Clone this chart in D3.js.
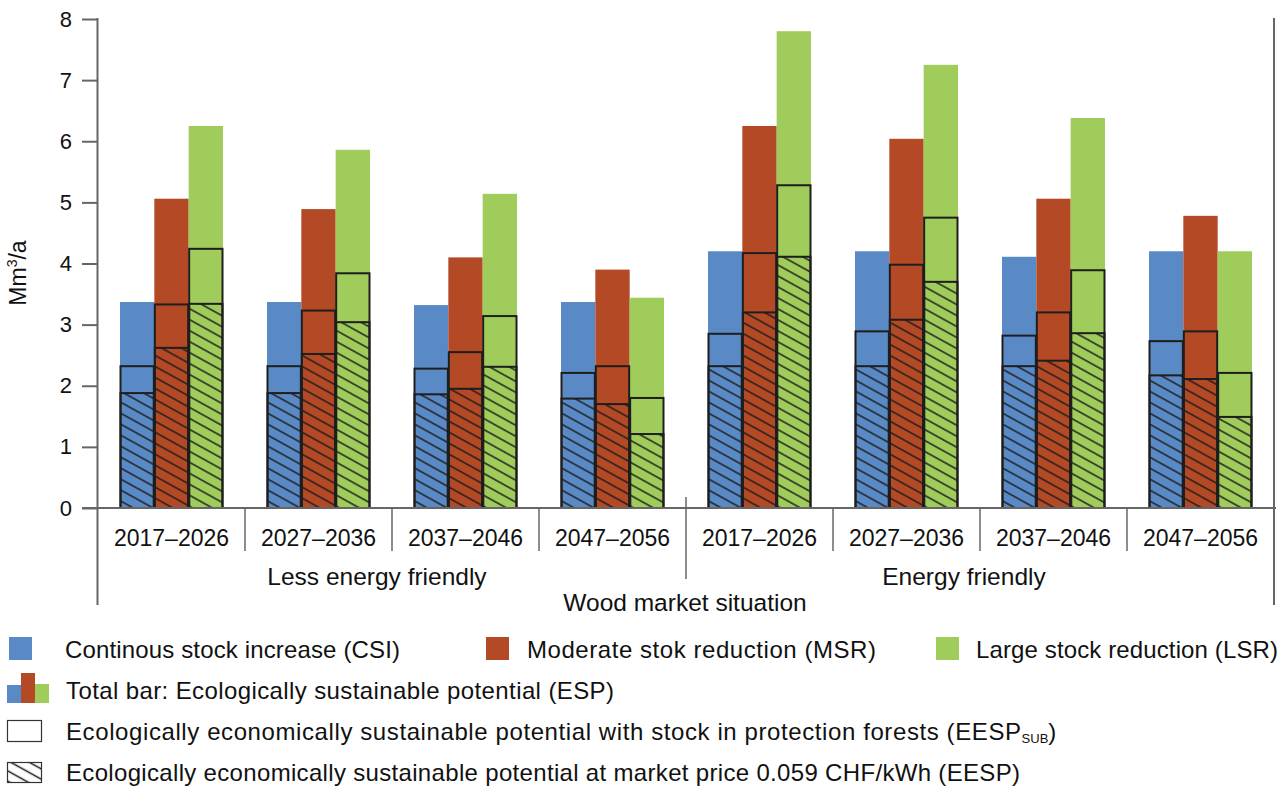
<!DOCTYPE html>
<html>
<head>
<meta charset="utf-8">
<script src="https://cdn.jsdelivr.net/npm/d3@7"></script>
<style>
  html, body { margin: 0; padding: 0; background: #fff; }
  svg { display: block; }
  text { font-family: "Liberation Sans", Arial, sans-serif; fill: #111; }
</style>
</head>
<body>
<svg id="chart" width="1288" height="788"></svg>
<script>
// ---------------- data ----------------
const periods = ["2017–2026", "2027–2036", "2037–2046", "2047–2056",
                 "2017–2026", "2027–2036", "2037–2046", "2047–2056"];
const situations = ["Less energy friendly", "Energy friendly"];
const seriesKeys = ["CSI", "MSR", "LSR"];
const seriesNames = ["Continous stock increase (CSI)", "Moderate stok reduction (MSR)", "Large stock reduction (LSR)"];
// Total bar: ecologically sustainable potential (ESP)
const espCSI = [3.37, 3.37, 3.32, 3.37, 4.20, 4.20, 4.11, 4.20];
const espMSR = [5.06, 4.89, 4.10, 3.90, 6.25, 6.04, 5.06, 4.78];
const espLSR = [6.25, 5.86, 5.14, 3.44, 7.80, 7.25, 6.38, 4.20];
// EESP_SUB (outlined box)
const subCSI = [2.32, 2.32, 2.28, 2.21, 2.85, 2.89, 2.82, 2.73];
const subMSR = [3.33, 3.23, 2.55, 2.32, 4.17, 3.98, 3.20, 2.89];
const subLSR = [4.24, 3.84, 3.14, 1.80, 5.28, 4.75, 3.89, 2.21];
// EESP at market price (hatched)
const eespCSI = [1.88, 1.88, 1.86, 1.79, 2.32, 2.32, 2.32, 2.17];
const eespMSR = [2.62, 2.52, 1.95, 1.70, 3.20, 3.08, 2.41, 2.11];
const eespLSR = [3.34, 3.04, 2.31, 1.21, 4.11, 3.70, 2.86, 1.49];
const yTicks = [0, 1, 2, 3, 4, 5, 6, 7, 8];

const colors = { CSI: "#5a8ac6", MSR: "#b44a25", LSR: "#9fcc5a" };
const esp = { CSI: espCSI, MSR: espMSR, LSR: espLSR };
const sub = { CSI: subCSI, MSR: subMSR, LSR: subLSR };
const eesp = { CSI: eespCSI, MSR: eespMSR, LSR: eespLSR };

// ---------------- layout ----------------
const svg = d3.select("#chart");
const left = 98, right = 1274, y0 = 508, yTop = 19;
const FONT = "Liberation Sans, Arial, sans-serif";
const axisColor = "#666";
const outline = "#1e1e1e";

const x = d3.scaleBand().domain(d3.range(periods.length)).range([left, right]).padding(0);
const xi = d3.scaleBand().domain(seriesKeys).range([22, x.bandwidth() - 22]).padding(0);
const y = d3.scaleLinear().domain([0, 8]).range([y0, yTop]);

// hatch pattern
const defs = svg.append("defs");
function hatch(id, spacing) {
  const p = defs.append("pattern").attr("id", id)
    .attr("patternUnits", "userSpaceOnUse")
    .attr("width", 40).attr("height", spacing)
    .attr("patternTransform", "rotate(29)");
  p.append("line").attr("x1", 0).attr("x2", 40)
    .attr("y1", spacing / 2).attr("y2", spacing / 2)
    .attr("stroke", "#1a1a1a").attr("stroke-width", 1.4);
}
hatch("hatch", 9.6);
hatch("hatchLegend", 9.0);

// ---------------- bars ----------------
const groups = svg.append("g").selectAll("g").data(d3.range(periods.length)).join("g")
  .attr("transform", i => `translate(${x(i)},0)`);

seriesKeys.forEach(k => {
  groups.append("rect")
    .attr("x", i => xi(k)).attr("width", xi.bandwidth())
    .attr("y", i => y(esp[k][i])).attr("height", i => y0 - y(esp[k][i]))
    .attr("fill", colors[k]);
});
seriesKeys.forEach(k => {
  groups.append("rect")
    .attr("x", i => xi(k) + 0.5).attr("width", xi.bandwidth() - 1)
    .attr("y", i => y(sub[k][i])).attr("height", i => y0 - y(sub[k][i]))
    .attr("fill", "none").attr("stroke", outline).attr("stroke-width", 2);
  groups.append("rect")
    .attr("x", i => xi(k) + 0.5).attr("width", xi.bandwidth() - 1)
    .attr("y", i => y(eesp[k][i])).attr("height", i => y0 - y(eesp[k][i]))
    .attr("fill", "url(#hatch)").attr("stroke", outline).attr("stroke-width", 2);
});

// ---------------- axes ----------------
const yAxis = d3.axisLeft(y).tickValues(yTicks).tickSize(16).tickPadding(10).tickFormat(d3.format("d"));
const gy = svg.append("g").attr("transform", `translate(${left},0)`).call(yAxis);
gy.select(".domain").remove();
gy.selectAll(".tick line").attr("stroke", axisColor).attr("stroke-width", 2);
gy.selectAll(".tick text").style("font-family", FONT).style("font-size", "22px").attr("fill", "#111");

svg.append("line").attr("x1", left - 0.5).attr("x2", left - 0.5).attr("y1", yTop - 1).attr("y2", 605)
  .attr("stroke", axisColor).attr("stroke-width", 2);
svg.append("line").attr("x1", right).attr("x2", right).attr("y1", yTop - 1).attr("y2", 605)
  .attr("stroke", axisColor).attr("stroke-width", 2);
svg.append("line").attr("x1", left - 16).attr("x2", right + 2).attr("y1", y0).attr("y2", y0)
  .attr("stroke", axisColor).attr("stroke-width", 2);

d3.range(1, periods.length).forEach(i => {
  const xs = x(i);
  const mid = i === periods.length / 2;
  svg.append("line").attr("x1", xs).attr("x2", xs)
    .attr("y1", mid ? 497 : y0).attr("y2", mid ? 579 : 551)
    .attr("stroke", axisColor).attr("stroke-width", 1.5);
});

svg.append("g").selectAll("text").data(periods).join("text")
  .attr("x", (d, i) => x(i) + x.bandwidth() / 2).attr("y", 546)
  .attr("text-anchor", "middle").style("font-size", "23px").text(d => d);

svg.append("g").selectAll("text").data(situations).join("text")
  .attr("x", (d, i) => i === 0 ? 377 : 964).attr("y", 585)
  .attr("text-anchor", "middle").style("font-size", "24.5px").text(d => d);

svg.append("text").attr("x", 685).attr("y", 611).attr("text-anchor", "middle")
  .style("font-size", "24.5px").text("Wood market situation");

const yt = svg.append("text").attr("transform", "translate(26,273) rotate(-90)")
  .attr("text-anchor", "middle").style("font-size", "23px");
yt.append("tspan").text("Mm");
yt.append("tspan").attr("dy", -9).style("font-size", "14px").text("3");
yt.append("tspan").attr("dy", 9).text("/a");

// ---------------- legend ----------------
const lg = svg.append("g");
const legX = [9, 486, 936];
const legTX = [65, 527, 976];
const legTL = [335, 349, 302];
const LFS = "24px";
seriesKeys.forEach((k, i) => {
  lg.append("rect").attr("x", legX[i]).attr("y", 637).attr("width", 23).attr("height", 23).attr("fill", colors[k]);
  lg.append("text").attr("x", legTX[i]).attr("y", 658).style("font-size", LFS)
    .attr("textLength", legTL[i]).attr("lengthAdjust", "spacing").text(seriesNames[i]);
});
lg.append("rect").attr("x", 7).attr("y", 685).attr("width", 14).attr("height", 18).attr("fill", colors.CSI);
lg.append("rect").attr("x", 21).attr("y", 673).attr("width", 14).attr("height", 30).attr("fill", colors.MSR);
lg.append("rect").attr("x", 35).attr("y", 684).attr("width", 14).attr("height", 19).attr("fill", colors.LSR);
lg.append("text").attr("x", 66).attr("y", 699).style("font-size", LFS)
  .attr("textLength", 548).attr("lengthAdjust", "spacing")
  .text("Total bar: Ecologically sustainable potential (ESP)");
lg.append("rect").attr("x", 7.5).attr("y", 720.5).attr("width", 34).attr("height", 21)
  .attr("fill", "#fff").attr("stroke", "#333").attr("stroke-width", 1.2);
const t3 = lg.append("text").attr("x", 66).attr("y", 740).style("font-size", LFS);
t3.append("tspan").attr("textLength", 955).attr("lengthAdjust", "spacing")
  .text("Ecologically economically sustainable potential with stock in protection forests (EESP");
t3.append("tspan").attr("dy", 3).style("font-size", "13px").text("SUB");
t3.append("tspan").attr("dy", -3).text(")");
lg.append("rect").attr("x", 7.5).attr("y", 762.5).attr("width", 34).attr("height", 20)
  .attr("fill", "url(#hatchLegend)").attr("stroke", "#333").attr("stroke-width", 1.2);
lg.append("text").attr("x", 66).attr("y", 781).style("font-size", LFS)
  .attr("textLength", 954).attr("lengthAdjust", "spacing")
  .text("Ecologically economically sustainable potential at market price 0.059 CHF/kWh (EESP)");
</script>
</body>
</html>
